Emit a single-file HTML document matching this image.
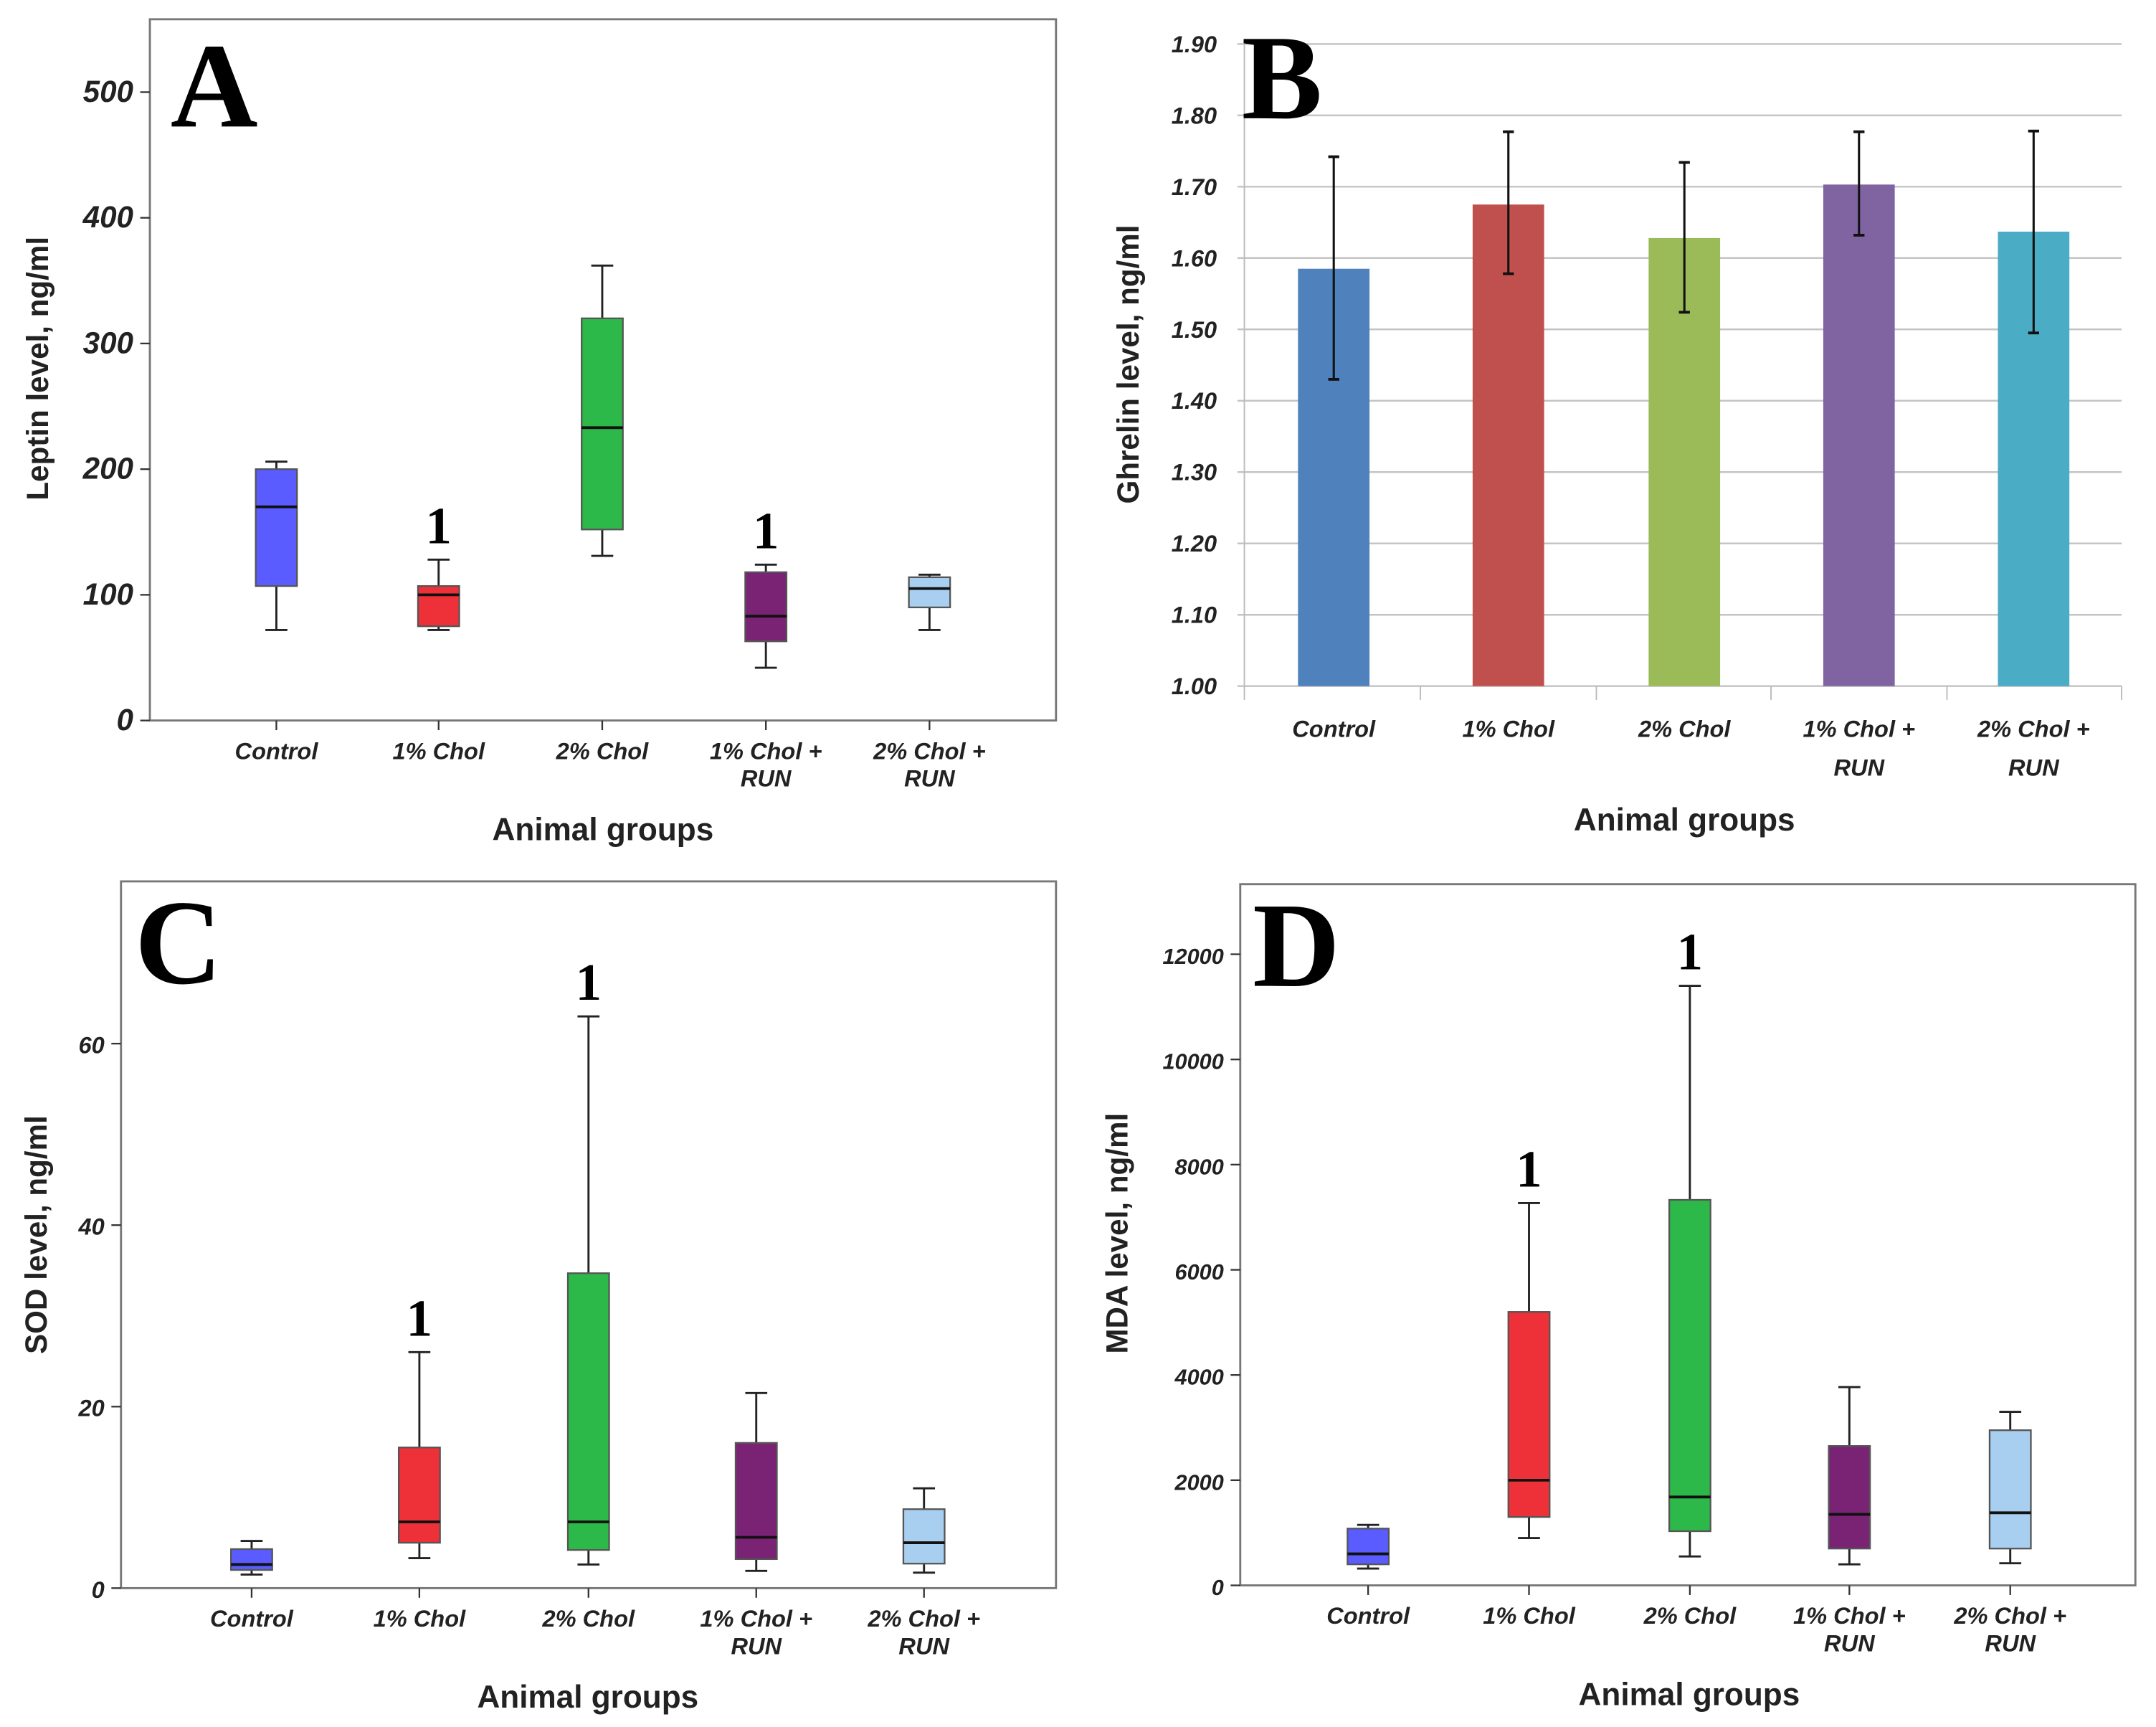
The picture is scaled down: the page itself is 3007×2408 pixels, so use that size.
<!DOCTYPE html>
<html><head><meta charset="utf-8"><style>
html,body{margin:0;padding:0;background:#fff}
svg{display:block}
</style></head><body>
<svg id="fig" xmlns="http://www.w3.org/2000/svg" width="3007" height="2408" viewBox="0 0 1568 1256" preserveAspectRatio="none" font-family="Liberation Sans, sans-serif">
<rect width="1568" height="1256" fill="#fff"/>
</svg>
<script>
const NS="http://www.w3.org/2000/svg";
const svg=document.getElementById('fig');
const categories=["Control","1% Chol","2% Chol","1% Chol +|RUN","2% Chol +|RUN"];
const boxColors=["#5a5cff","#ee3038","#2db84a","#7a2375","#a8cff0"];
// Panel A leptin: [whiskerLow, q1, median, q3, whiskerHigh]
const leptinBoxes=[[72,107,170,200,206],[72,75,100,107,128],[131,152,233,320,362],[42,63,83,118,124],[72,90,105,114,116]];
const leptinTicks=[0,100,200,300,400,500];
const leptinMarks=[1,3];
// Panel B ghrelin
const ghrelinMeans=[1.585,1.675,1.628,1.703,1.637];
const ghrelinLow=[1.43,1.578,1.524,1.632,1.495];
const ghrelinHigh=[1.742,1.777,1.734,1.777,1.778];
const ghrelinTicks=[1.00,1.10,1.20,1.30,1.40,1.50,1.60,1.70,1.80,1.90];
const ghrelinColors=["#4f81bd","#c0504d","#9bbb59","#8064a2","#4bacc6"];
// Panel C SOD
const sodBoxes=[[1.5,2,2.6,4.3,5.2],[3.3,5,7.3,15.5,26],[2.6,4.2,7.3,34.7,63],[1.9,3.2,5.6,16,21.5],[1.7,2.7,5,8.7,11]];
const sodTicks=[0,20,40,60];
const sodMarks=[1,2];
// Panel D MDA
const mdaBoxes=[[320,400,600,1080,1150],[900,1300,2000,5200,7270],[550,1030,1680,7330,11400],[400,700,1350,2650,3770],[420,700,1380,2950,3300]];
const mdaTicks=[0,2000,4000,6000,8000,10000,12000];
const mdaMarks=[1,2];

const SERIF='font-family:"Liberation Serif",serif';
function el(tag,attrs,parent){const e=document.createElementNS(NS,tag);for(const k in attrs)e.setAttribute(k,attrs[k]);(parent||svg).appendChild(e);return e;}
function txt(s,attrs,parent){const e=el('text',attrs,parent);e.textContent=s;return e;}

function catLabels(g,xs,y1,y2){
  categories.forEach((c,i)=>{
    const parts=c.split('|');
    parts.forEach((p,j)=>{
      const t=txt(p,{x:xs[i],y:j?y2:y1,'text-anchor':'middle','font-size':17,'font-style':'italic','font-weight':'bold',fill:'#222'},g);
      
      
    });
  });
}

function boxPanel(o){
  const g=el('g',{});
  
  
  const y=v=>o.y0+(v-o.vmin)/(o.vmax-o.vmin)*(o.y1-o.y0);
  const fr=el('rect',{x:o.left,y:o.top,width:o.right-o.left,height:o.bottom-o.top,fill:'none',stroke:'#777','stroke-width':1.5},g);
  
  o.ticks.forEach(t=>{
    el('line',{x1:o.left-7,x2:o.left,y1:y(t),y2:y(t),stroke:'#333','stroke-width':1.2},g);
    const tl=txt(String(t),{x:o.left-12,y:y(t)+7,'text-anchor':'end','font-size':o.tickFont,'font-style':'italic','font-weight':'bold',fill:'#222'},g);
    
  });
  o.xs.forEach(x=>el('line',{x1:x,x2:x,y1:o.bottom,y2:o.bottom+7,stroke:'#333','stroke-width':1.2},g));
  o.data.forEach((d,i)=>{
    const x=o.xs[i],w=o.bw;
    const bg=el('g',{},g);
    
    el('line',{x1:x,x2:x,y1:y(d[0]),y2:y(d[1]),stroke:'#222','stroke-width':1.5},bg);
    el('line',{x1:x,x2:x,y1:y(d[3]),y2:y(d[4]),stroke:'#222','stroke-width':1.5},bg);
    el('line',{x1:x-8,x2:x+8,y1:y(d[0]),y2:y(d[0]),stroke:'#222','stroke-width':1.5},bg);
    el('line',{x1:x-8,x2:x+8,y1:y(d[4]),y2:y(d[4]),stroke:'#222','stroke-width':1.5},bg);
    el('rect',{x:x-w/2,y:y(d[3]),width:w,height:y(d[1])-y(d[3]),fill:boxColors[i],stroke:'#555','stroke-width':1.2},bg);
    el('line',{x1:x-w/2,x2:x+w/2,y1:y(d[2]),y2:y(d[2]),stroke:'#111','stroke-width':2},bg);
  });
  o.marks.forEach(i=>{
    const m=txt('1',{x:o.xs[i],y:y(o.data[i][4])-12,'text-anchor':'middle','font-size':38,'font-weight':'bold',style:SERIF,fill:'#000'},g);
    
  });
  const L=txt(o.letter,{x:o.letterX,y:o.letterY,'font-size':88,'font-weight':'bold',style:SERIF,fill:'#000'},g);
  
  catLabels(g,o.xs,o.bottom+28,o.bottom+48);
  const xt=txt('Animal groups',{x:(o.xs[0]+o.xs[4])/2,y:o.bottom+87,'text-anchor':'middle','font-size':23,'font-weight':'bold',fill:'#222'},g);
  
  const yt=txt(o.ylabel,{x:0,y:0,'text-anchor':'middle','font-size':22,'font-weight':'bold',fill:'#222',transform:`translate(${o.ylx},${o.yly}) rotate(-90)`},g);
  
}

boxPanel({name:'panel-a-leptin',left:109,top:14,right:768,bottom:524,y0:524,y1:67,vmin:0,vmax:500,ticks:leptinTicks,tickFont:22,
  xs:[201,319,438,557,676],bw:30,data:leptinBoxes,marks:leptinMarks,letter:'A',letterX:124,letterY:92,ylabel:'Leptin level, ng/ml',ylx:35,yly:268});
boxPanel({name:'panel-c-sod',left:88,top:641,right:768,bottom:1155,y0:1155,y1:759,vmin:0,vmax:60,ticks:sodTicks,tickFont:17,
  xs:[183,305,428,550,672],bw:30,data:sodBoxes,marks:sodMarks,letter:'C',letterX:98,letterY:715,ylabel:'SOD level, ng/ml',ylx:34,yly:898});
boxPanel({name:'panel-d-mda',left:902,top:643,right:1553,bottom:1153,y0:1153,y1:694,vmin:0,vmax:12000,ticks:mdaTicks,tickFont:16,
  xs:[995,1112,1229,1345,1462],bw:30,data:mdaBoxes,marks:mdaMarks,letter:'D',letterX:911,letterY:717,ylabel:'MDA level, ng/ml',ylx:820,yly:897});

// Panel B
(function(){
  const g=el('g',{});
  
  
  const L=905,R=1543,y=v=>499+(v-1.0)/(1.9-1.0)*(32-499);
  const xs=[970,1097,1225,1352,1479];
  ghrelinTicks.forEach(t=>{
    const gl=el('line',{x1:L-5,x2:R,y1:y(t),y2:y(t),stroke:'#c4c4c4','stroke-width':1.3},g);
    
    const tl=txt(t.toFixed(2),{x:885,y:y(t)+6,'text-anchor':'end','font-size':17,'font-style':'italic','font-weight':'bold',fill:'#222'},g);
    
  });
  el('line',{x1:L,x2:L,y1:y(1.9),y2:499,stroke:'#bbb','stroke-width':1},g);
  [905,1033,1161,1288,1416,1543].forEach(x=>el('line',{x1:x,x2:x,y1:499,y2:509,stroke:'#bbb','stroke-width':1},g));
  ghrelinMeans.forEach((v,i)=>{
    const b=el('rect',{x:xs[i]-26,y:y(v),width:52,height:499-y(v),fill:ghrelinColors[i]},g);
    
    const e=el('g',{},g);
    
    el('line',{x1:xs[i],x2:xs[i],y1:y(ghrelinLow[i]),y2:y(ghrelinHigh[i]),stroke:'#111','stroke-width':1.6},e);
    el('line',{x1:xs[i]-4,x2:xs[i]+4,y1:y(ghrelinLow[i]),y2:y(ghrelinLow[i]),stroke:'#111','stroke-width':2},e);
    el('line',{x1:xs[i]-4,x2:xs[i]+4,y1:y(ghrelinHigh[i]),y2:y(ghrelinHigh[i]),stroke:'#111','stroke-width':2},e);
  });
  const B=txt('B',{x:903,y:86,'font-size':88,'font-weight':'bold',style:SERIF,fill:'#000'},g);
  
  catLabels(g,xs,536,564);
  const xt=txt('Animal groups',{x:1225,y:604,'text-anchor':'middle','font-size':23,'font-weight':'bold',fill:'#222'},g);
  
  const yt=txt('Ghrelin level, ng/ml',{x:0,y:0,'text-anchor':'middle','font-size':22,'font-weight':'bold',fill:'#222',transform:'translate(828,265) rotate(-90)'},g);
  
})();
</script>
</body></html>
